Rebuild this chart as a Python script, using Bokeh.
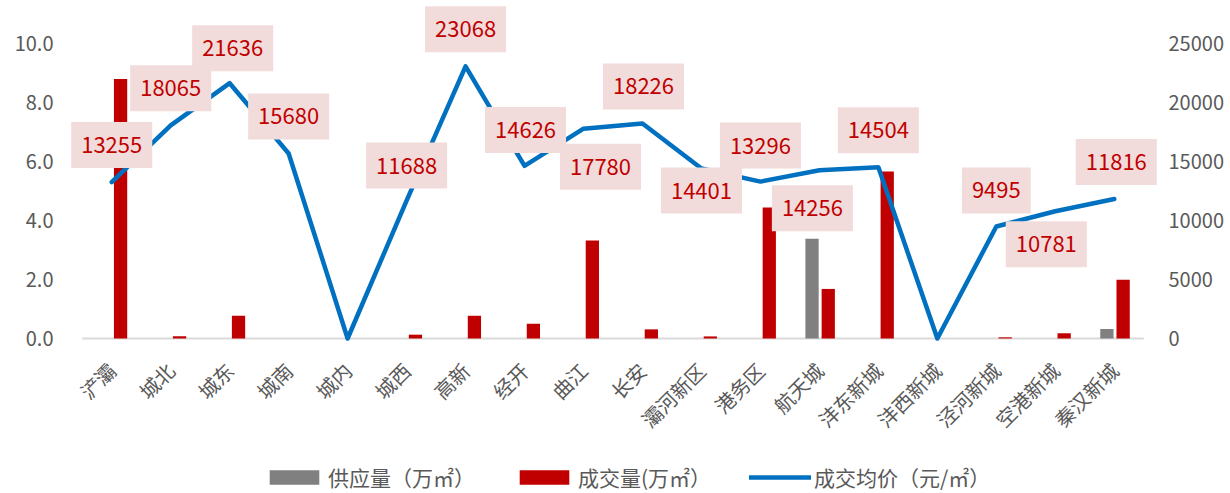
import math
from bokeh.plotting import figure
from bokeh.models import (FactorRange, Range1d, LinearAxis, FixedTicker, NumeralTickFormatter,
                          ColumnDataSource, Legend, LegendItem)
from bokeh.transform import dodge
from bokeh.core.properties import value
from bokeh.embed import file_html
from bokeh.resources import INLINE

districts = ["浐灞", "城北", "城东", "城南", "城内", "城西", "高新", "经开", "曲江", "长安",
             "灞河新区", "港务区", "航天城", "沣东新城", "沣西新城", "泾河新城", "空港新城", "秦汉新城"]
supply = [0, 0, 0, 0, 0, 0, 0, 0, 0, 0, 0, 0, 3.38, 0, 0, 0, 0, 0.32]
deal = [8.8, 0.08, 0.77, 0, 0, 0.13, 0.77, 0.5, 3.32, 0.31, 0.07, 4.44, 1.68, 5.66, 0, 0.04, 0.18, 1.99]
price = [13255, 18065, 21636, 15680, 0, 11688, 23068, 14626, 17780, 18226, 14401, 13296,
         14256, 14504, 0, 9495, 10781, 11816]

# label placement (screen px, positive = down), style only
label_dx = [0, 0, 3, 0, 0, 0, 0, 1, 17, 1, 0, 0, -7, 0, 0, 0, -9, 2]
label_dy = [-37, -37, -35, -37, 0, -35, -37, -36, 38, -37, 22, -36, 38, -37, 0, -36, 33, -37]

FONT = "Noto Sans CJK SC"
GRAY_TXT = "#595959"

src = ColumnDataSource(dict(d=districts, supply=supply, deal=deal, price=price))
lab_idx = [i for i, v in enumerate(price) if v > 0]
lab_src = ColumnDataSource(dict(
    d=[districts[i] for i in lab_idx],
    price=[price[i] for i in lab_idx],
    txt=[str(price[i]) for i in lab_idx],
    dx=[label_dx[i] for i in lab_idx],
    dy=[label_dy[i] for i in lab_idx],
))

H = 493
ppu = 29.5
y0 = -(H - 338) / ppu
y1 = 338 / ppu

p = figure(width=1230, height=H,
           x_range=FactorRange(*districts, range_padding=0.25, range_padding_units="absolute"),
           y_range=Range1d(y0, y1), output_backend="svg", toolbar_location=None,
           min_border_left=67, min_border_right=72, min_border_top=0, min_border_bottom=0)
p.extra_y_ranges = {"price": Range1d(y0 * 2500, y1 * 2500)}
p.outline_line_color = None
p.xgrid.grid_line_color = None
p.ygrid.grid_line_color = None

# category-axis base line (from first to last category edge)
p.segment(x0=[0], y0=[0], x1=[len(districts)], y1=[0], line_color="#D9D9D9", line_width=2,
          level="underlay")

g_bars = p.vbar(x=dodge("d", -0.125, range=p.x_range), top="supply", width=0.225, source=src,
                fill_color="#808080", line_color=None)
r_bars = p.vbar(x=dodge("d", 0.15, range=p.x_range), top="deal", width=0.225, source=src,
                fill_color="#C00000", line_color=None)
ln = p.line(x="d", y="price", source=src, y_range_name="price", line_color="#0070C0",
            line_width=4.5, line_cap="round", line_join="round")

p.text(x="d", y="price", text="txt", source=lab_src, y_range_name="price",
       x_offset="dx", y_offset="dy", text_align="center", text_baseline="middle",
       text_color="#C00000", text_font=value(FONT), text_font_size="22px",
       background_fill_color="#F2DCDB",
       padding=dict(left=10, right=10, top=15, bottom=15))

# left axis
la = p.yaxis[0]
la.ticker = FixedTicker(ticks=[0, 2, 4, 6, 8, 10])
la.formatter = NumeralTickFormatter(format="0.0")
ra = LinearAxis(y_range_name="price", ticker=FixedTicker(ticks=[0, 5000, 10000, 15000, 20000, 25000]))
p.add_layout(ra, "right")
for ax in (la, ra):
    ax.axis_line_color = None
    ax.major_tick_line_color = None
    ax.minor_tick_line_color = None
    ax.major_label_text_font = FONT
    ax.major_label_text_font_size = "20px"
    ax.major_label_text_color = GRAY_TXT
la.major_label_standoff = 8
ra.major_label_standoff = 4

xa = p.xaxis[0]
xa.fixed_location = 0
xa.axis_line_color = None
xa.major_tick_line_color = None
xa.minor_tick_line_color = None
xa.major_label_orientation = math.pi / 4
xa.major_label_text_font = FONT
xa.major_label_text_font_size = "20px"
xa.major_label_text_color = GRAY_TXT
xa.major_label_standoff = 22

legend = Legend(items=[
    LegendItem(label="供应量（万㎡）", renderers=[g_bars]),
    LegendItem(label="成交量(万㎡）", renderers=[r_bars]),
    LegendItem(label="成交均价（元/㎡）", renderers=[ln]),
], orientation="horizontal", location=(196, 1), border_line_color=None,
    background_fill_alpha=0, label_text_font=FONT, label_text_font_size="21px",
    label_text_color=GRAY_TXT, glyph_width=62, glyph_height=18, spacing=38,
    label_standoff=3, padding=0, margin=0)
p.add_layout(legend)

open("out.html", "w").write(file_html(p, INLINE))
